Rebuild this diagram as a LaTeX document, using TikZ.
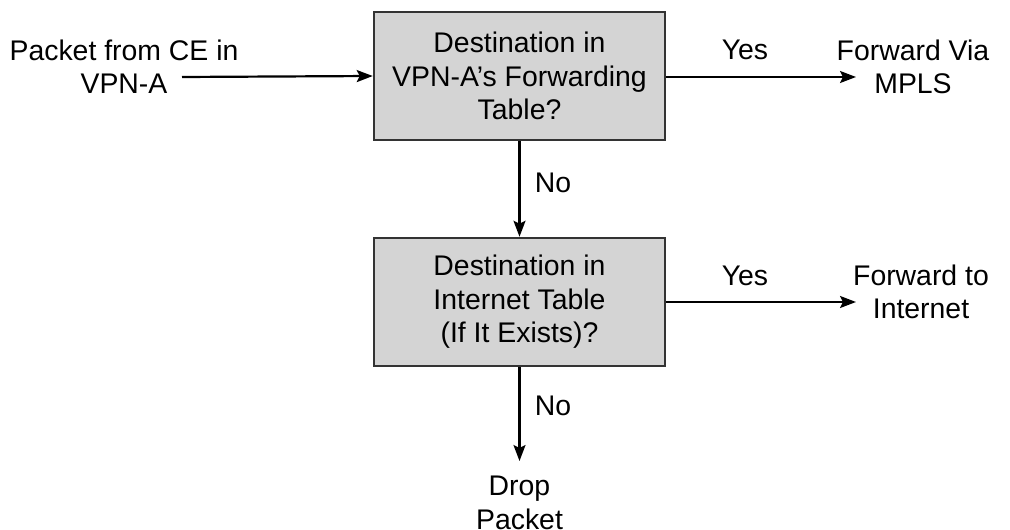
\documentclass[tikz,border=0pt]{standalone}
\usepackage{fontspec}
\setmainfont{Liberation Sans}
\usetikzlibrary{arrows.meta}
\begin{document}
\begin{tikzpicture}[x=1bp,y=-1bp,
  decbox/.style={draw=black!80, line width=2.5bp, fill=black!17, minimum width=291bp, minimum height=128bp, align=center, inner sep=0pt},
  txt/.style={align=center, inner sep=0pt},
  conn/.style={line width=2.2bp, -{Stealth[length=16bp,width=12bp,inset=3bp]}},
  lbl/.style={inner sep=0pt},
  every node/.append style={font=\fontsize{28.5}{33.5}\selectfont}]
\useasboundingbox (0,0) rectangle (1010,530);
\node[decbox] (b1) at (519.5,76) {Destination in\\VPN-A's Forwarding\\Table?};
\node[decbox] (b2) at (519.5,302) {Destination in\\Internet Table\\(If It Exists)?};
\node[txt] (src) at (124,67) {Packet from CE in\\VPN-A};
\coordinate (s) at (182,77);
\node[txt] (fv) at (913,67) {Forward Via\\MPLS};
\node[txt] (fi) at (921,292) {Forward to\\Internet};
\node[txt] (dp) at (519.5,503) {Drop\\Packet};
\node[lbl] (y1) at (745,50) {Yes};
\node[lbl] (y2) at (745,276) {Yes};
\node[lbl] (n1) at (553,183) {No};
\node[lbl] (n2) at (553,406) {No};
\coordinate (fvin) at (856,77);
\coordinate (fiin) at (856,302);
\coordinate (dpin) at (519.5,461);
\draw[conn] (s) -- (b1.west);
\draw[conn] (b1.east |- s) -- (fvin);
\draw[conn] (b1.south) -- (b2.north);
\draw[conn] (b2.east) -- (fiin);
\draw[conn] (b2.south) -- (dpin);
\end{tikzpicture}
\end{document}
